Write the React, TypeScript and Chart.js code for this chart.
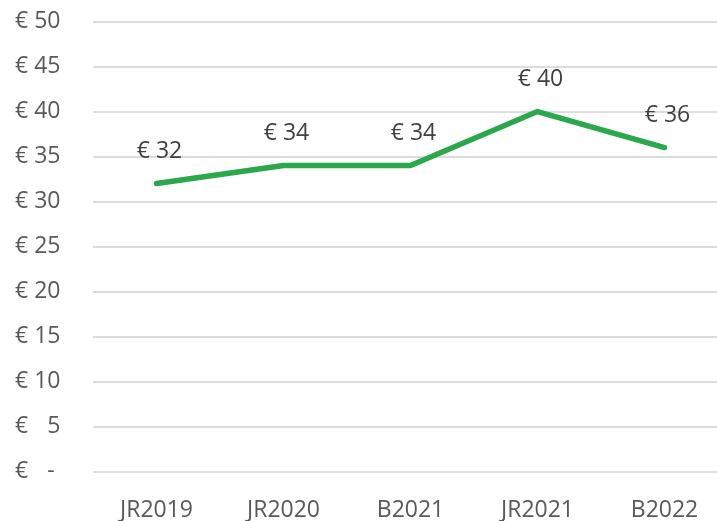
import React, { useEffect, useRef } from "react";
import { Chart, registerables } from "chart.js";

Chart.register(...registerables);

const categories = ["JR2019", "JR2020", "B2021", "JR2021", "B2022"];
const values = [32, 34, 34, 40, 36];
const yTickValues = [0, 5, 10, 15, 20, 25, 30, 35, 40, 45, 50];
const yTickLabels = ["€ \u2007-", "€ \u20075", "€ 10", "€ 15", "€ 20", "€ 25", "€ 30", "€ 35", "€ 40", "€ 45", "€ 50"];

const FONT = "'Open Sans', sans-serif";

const valueLabels = {
  id: "valueLabels",
  afterDatasetsDraw(chart: any) {
    const ctx = chart.ctx;
    const meta = chart.getDatasetMeta(0);
    ctx.save();
    ctx.font = `23px ${FONT}`;
    ctx.fillStyle = "#404040";
    ctx.textAlign = "center";
    ctx.textBaseline = "middle";
    meta.data.forEach((pt: any, i: number) => {
      ctx.fillText("€ " + values[i], pt.x + 3, pt.y - 32);
    });
    ctx.restore();
  },
};

export default function App() {
  const ref = useRef<HTMLCanvasElement | null>(null);
  useEffect(() => {
    if (!ref.current) return;
    const chart = new Chart(ref.current, {
      type: "line",
      data: {
        labels: categories,
        datasets: [
          {
            data: values,
            borderColor: "#2aa84b",
            borderWidth: 5.5,
            borderCapStyle: "round",
            borderJoinStyle: "round",
            pointRadius: 0,
            tension: 0,
            fill: false,
          },
        ],
      },
      options: {
        animation: false,
        responsive: true,
        maintainAspectRatio: false,
        layout: { padding: { left: 15, top: 21.5, right: 0, bottom: 0 } },
        plugins: { legend: { display: false }, tooltip: { enabled: false } },
        scales: {
          x: {
            offset: true,
            grid: { display: false, drawTicks: false },
            border: { display: false },
            ticks: { color: "#595959", font: { family: FONT, size: 23 }, padding: 25 },
            afterFit: (s: any) => {
              s.height = 49.3;
            },
          },
          y: {
            min: 0,
            max: 50,
            afterBuildTicks: (s: any) => {
              s.ticks = yTickValues.map((v) => ({ value: v }));
            },
            grid: { color: "#dcdcdc", lineWidth: 2, drawTicks: false },
            border: { display: false },
            ticks: {
              crossAlign: "far",
              color: "#595959",
              font: { family: FONT, size: 23 },
              callback: (v: any) => yTickLabels[yTickValues.indexOf(Number(v))] ?? "",
            },
            afterFit: (s: any) => {
              s.width = 78;
            },
          },
        },
      },
      plugins: [valueLabels],
    });
    return () => chart.destroy();
  }, []);
  return (
    <div style={{ position: "fixed", left: 0, top: 0, width: 717, height: 521, overflow: "hidden", background: "#fff" }}>
      <div style={{ position: "relative", width: 728, height: 521 }}>
        <canvas ref={ref} />
      </div>
    </div>
  );
}
